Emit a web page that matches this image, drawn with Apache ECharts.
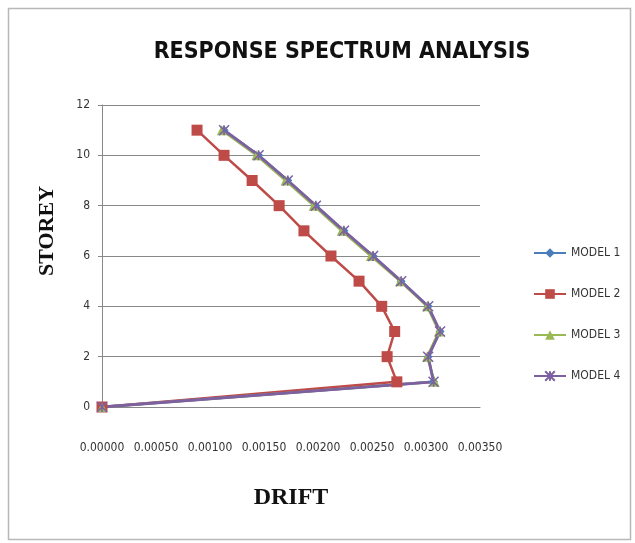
<!DOCTYPE html>
<html>
<head>
<meta charset="utf-8">
<script src="https://cdn.jsdelivr.net/npm/echarts@6/dist/echarts.min.js"></script>
<style>html,body{margin:0;padding:0;background:#fff}#c{width:635px;height:543px}</style>
</head>
<body>
<div id="c"></div>
<script>
var storeys = [0, 1, 2, 3, 4, 5, 6, 7, 8, 9, 10, 11];
var model1 = [0, 0.00307, 0.00302, 0.00313, 0.00302, 0.00277, 0.00251, 0.00224, 0.00198, 0.00172, 0.00145, 0.00113];
var model2 = [0, 0.00273, 0.00264, 0.00271, 0.00259, 0.00238, 0.00212, 0.00187, 0.00164, 0.00139, 0.00113, 0.00088];
var model3 = [0, 0.00308, 0.00301, 0.00312, 0.00301, 0.00276, 0.00249, 0.00222, 0.00196, 0.00170, 0.00143, 0.00111];
var model4 = [0, 0.00307, 0.00302, 0.00313, 0.00302, 0.00277, 0.00251, 0.00224, 0.00198, 0.00172, 0.00145, 0.00113];
var seriesNames = ['MODEL 1', 'MODEL 2', 'MODEL 3', 'MODEL 4'];
var xTicks = [0, 0.0005, 0.001, 0.0015, 0.002, 0.0025, 0.003, 0.0035];

function pts(arr) { return arr.map(function (v, i) { return [v, storeys[i]]; }); }
var narrow = '"Liberation Sans Narrow","DejaVu Sans Condensed","Roboto Condensed",sans-serif';
var starPath = 'path://M0,0L10,10M10,0L0,10M5,0L5,10';

var chart = echarts.init(document.getElementById('c'), null, {renderer: 'canvas'});
chart.setOption({
  backgroundColor: '#fff',
  animation: false,
  title: {
    text: 'RESPONSE SPECTRUM ANALYSIS',
    left: 337, textAlign: 'center', top: 36,
    textStyle: {fontFamily: narrow, fontWeight: 'bold', fontSize: 23, color: '#111'}
  },
  graphic: [
    {type: 'rect', shape: {x: 8.5, y: 8.5, width: 622, height: 531}, style: {fill: 'none', stroke: '#b8b8b8', lineWidth: 1.5}, z: -1},
    {type: 'text', x: 47, y: 231, rotation: Math.PI / 2,
     style: {text: 'STOREY', font: 'bold 22px "Liberation Serif", serif', fill: '#111', textAlign: 'center', textVerticalAlign: 'middle'}}
  ],
  legend: {
    orient: 'vertical', left: 528, top: 242, itemGap: 29, itemWidth: 32, itemHeight: 12,
    data: seriesNames,
    textStyle: {fontFamily: narrow, fontSize: 12, color: '#333'}
  },
  grid: {left: 102, right: 155, top: 105, bottom: 136},
  xAxis: {
    type: 'value', min: 0, max: 0.0035, interval: 0.0005,
    name: 'DRIFT', nameLocation: 'middle', nameGap: 79,
    nameTextStyle: {fontFamily: '"Liberation Serif", serif', fontWeight: 'bold', fontSize: 24, color: '#111'},
    axisLine: {show: true, lineStyle: {color: '#888'}},
    axisTick: {show: false},
    splitLine: {show: false},
    axisLabel: {
      margin: 35, fontFamily: narrow, fontSize: 12, color: '#333',
      formatter: function (v) { return v.toFixed(5); }
    }
  },
  yAxis: {
    type: 'value', min: 0, max: 12, interval: 2,
    axisLine: {show: true, lineStyle: {color: '#888'}},
    axisTick: {show: true, length: 4, lineStyle: {color: '#888'}},
    splitLine: {show: true, lineStyle: {color: '#888', width: 1}},
    axisLabel: {margin: 12, fontFamily: narrow, fontSize: 12, color: '#333'}
  },
  series: [
    {name: 'MODEL 1', type: 'line', data: pts(model1), symbol: 'diamond', symbolSize: 9,
     lineStyle: {color: '#4a7ebb', width: 2.5}, itemStyle: {color: '#4a7ebb'}},
    {name: 'MODEL 2', type: 'line', data: pts(model2), symbol: 'rect', symbolSize: 11,
     lineStyle: {color: '#be4b48', width: 2.5}, itemStyle: {color: '#be4b48'}},
    {name: 'MODEL 3', type: 'line', data: pts(model3), symbol: 'triangle', symbolSize: 10,
     lineStyle: {color: '#98b954', width: 2.5}, itemStyle: {color: '#98b954'}},
    {name: 'MODEL 4', type: 'line', data: pts(model4), symbol: starPath, symbolSize: 10,
     lineStyle: {color: '#7d60a0', width: 2.8},
     itemStyle: {color: 'rgba(0,0,0,0)', borderColor: '#7d60a0', borderWidth: 1.5}}
  ]
});
</script>
</body>
</html>
